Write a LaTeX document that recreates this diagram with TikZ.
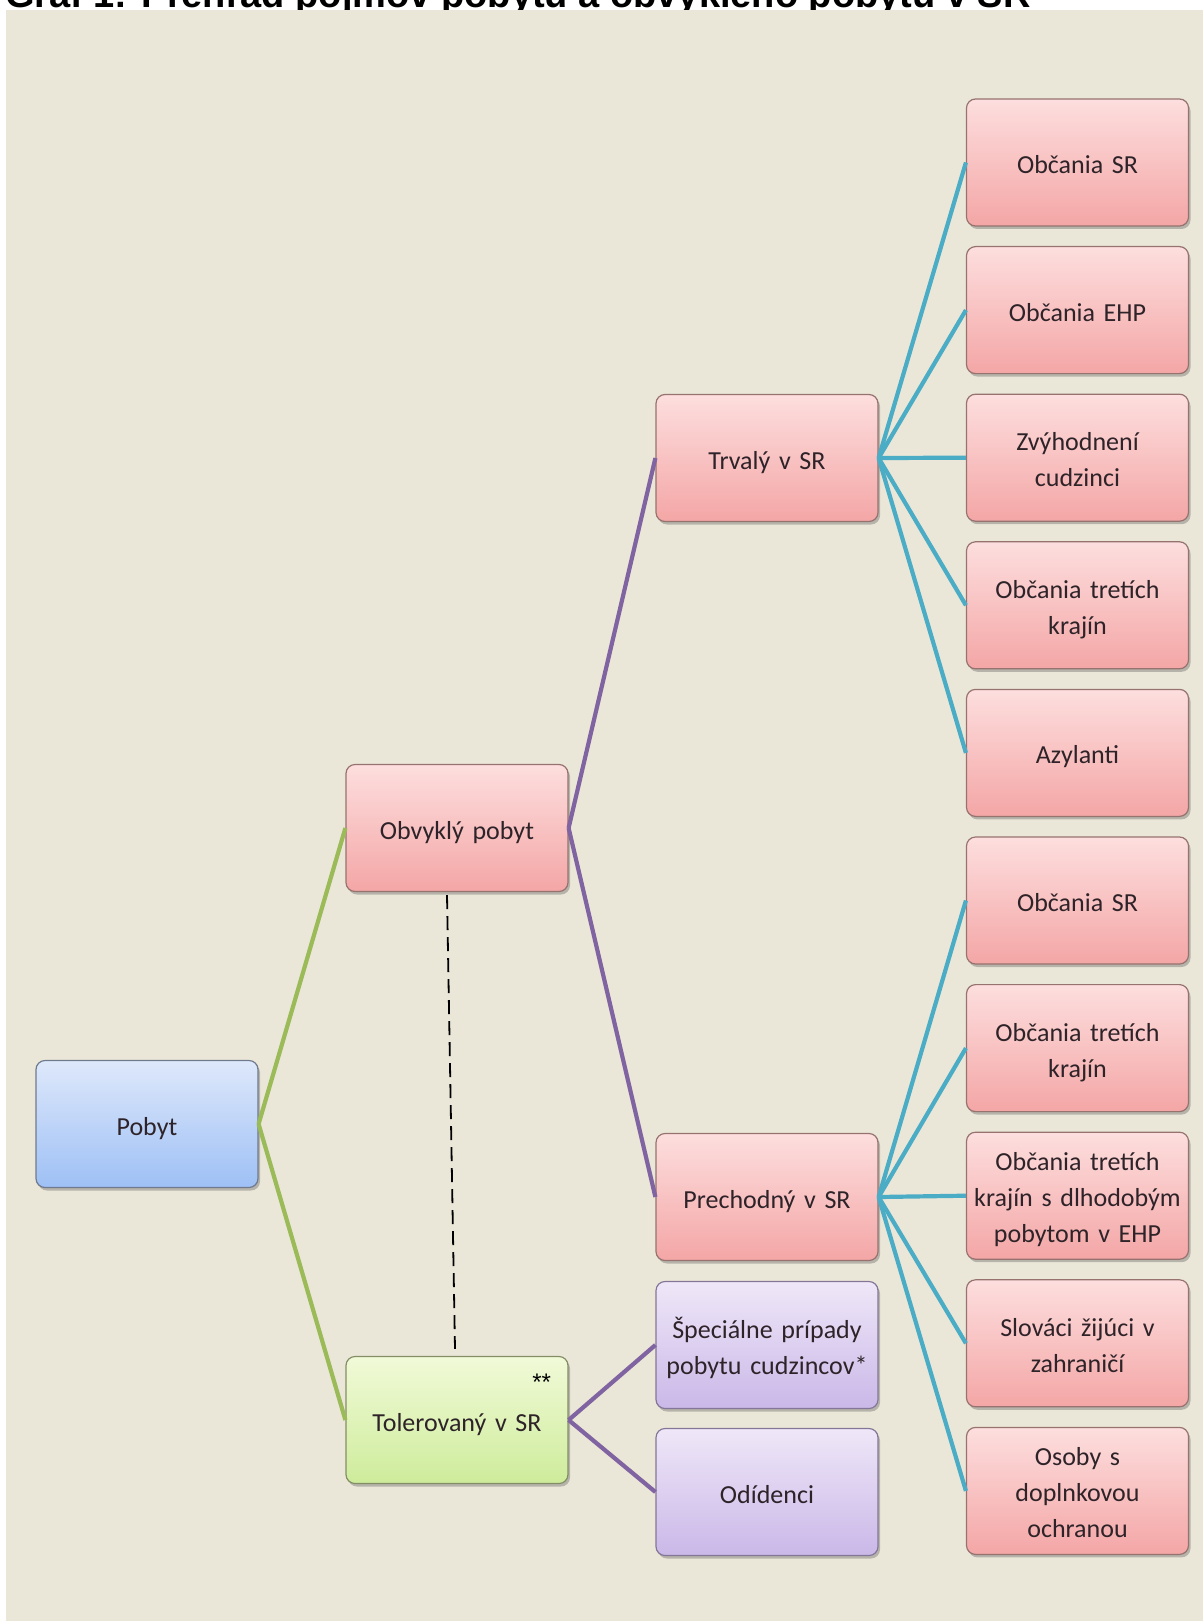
\documentclass[tikz,border=0pt]{standalone}
\usepackage{fontspec}
\setmainfont{Carlito}[WordSpace=0.6]
\newfontfamily\titlefont{Liberation Sans}
\usetikzlibrary{shadows,calc}

\definecolor{bg}{RGB}{235,231,216}
\definecolor{lgreen}{RGB}{155,187,89}
\definecolor{lpurple}{RGB}{128,100,162}
\definecolor{lteal}{RGB}{75,172,198}
\definecolor{pinktop}{RGB}{253,222,222}
\definecolor{pinkbot}{RGB}{244,166,166}
\definecolor{pinkline}{RGB}{150,115,110}
\definecolor{bluetop}{RGB}{222,232,251}
\definecolor{bluebot}{RGB}{158,192,245}
\definecolor{blueline}{RGB}{112,122,142}
\definecolor{greentop}{RGB}{241,250,216}
\definecolor{greenbot}{RGB}{206,236,155}
\definecolor{greenline}{RGB}{132,142,102}
\definecolor{purptop}{RGB}{239,231,248}
\definecolor{purpbot}{RGB}{202,184,232}
\definecolor{purpline}{RGB}{132,118,152}
\definecolor{txt}{RGB}{45,35,40}

\tikzset{
  box/.style={rounded corners=9pt, minimum width=222pt, minimum height=127pt,
    inner sep=0pt, text width=216pt, align=center,
    font=\fontsize{26}{36}\selectfont, text=txt, line width=1.2pt,
    execute at begin node={\rule{0pt}{31pt}},
    execute at end node={\rule[-9pt]{0pt}{9pt}},
    drop shadow={shadow xshift=2pt, shadow yshift=-3pt, opacity=0.4, fill=black!60}},
  pinkbox/.style={box, draw=pinkline, top color=pinktop, bottom color=pinkbot},
  bluebox/.style={box, draw=blueline, top color=bluetop, bottom color=bluebot},
  greenbox/.style={box, draw=greenline, top color=greentop, bottom color=greenbot},
  purpbox/.style={box, draw=purpline, top color=purptop, bottom color=purpbot},
  gconn/.style={draw=lgreen, line width=4.2pt},
  pconn/.style={draw=lpurple, line width=4.2pt},
  tconn/.style={draw=lteal, line width=4.2pt},
}

\begin{document}
\begin{tikzpicture}[x=1pt,y=-1pt]
  % canvas
  \useasboundingbox (0,0) rectangle (1203,1621);
  \fill[white] (0,0) rectangle (1203,1621);
  \fill[bg] (6,10) rectangle (1203,1621);

  % title, cut off at the top edge as in the reference
  \begin{scope}
    \clip (0,0) rectangle (1203,10);
    \node[anchor=base west, inner sep=0pt, font=\titlefont\bfseries\fontsize{38}{38}\selectfont]
      (title) at (5,8) {Graf 1: Prehľad pojmov pobytu a obvyklého pobytu v SR};
  \end{scope}

  % nodes
  \node[bluebox]  (pob) at (147,1124) {Pobyt};
  \node[pinkbox]  (obv) at (457,828) {Obvyklý pobyt};
  \node[greenbox] (tol) at (457,1420) {Tolerovaný v SR};
  \node[pinkbox]  (trv) at (767,458) {Trvalý v SR};
  \node[pinkbox]  (pre) at (767,1197) {Prechodný v SR};
  \node[purpbox]  (spe) at (767,1345) {Špeciálne prípady\\pobytu cudzincov*};
  \node[purpbox]  (odi) at (767,1492) {Odídenci};

  \node[pinkbox] (r1)  at (1077.5,162.5)  {Občania SR};
  \node[pinkbox] (r2)  at (1077.5,310.1)  {Občania EHP};
  \node[pinkbox] (r3)  at (1077.5,457.7)  {Zvýhodnení\\cudzinci};
  \node[pinkbox] (r4)  at (1077.5,605.3)  {Občania tretích\\krajín};
  \node[pinkbox] (r5)  at (1077.5,752.9)  {Azylanti};
  \node[pinkbox] (r6)  at (1077.5,900.5)  {Občania SR};
  \node[pinkbox] (r7)  at (1077.5,1048.1) {Občania tretích\\krajín};
  \node[pinkbox] (r8)  at (1077.5,1195.7) {Občania tretích\\krajín s dlhodobým\\pobytom v EHP};
  \node[pinkbox] (r9)  at (1077.5,1343.3) {Slováci žijúci v\\zahraničí};
  \node[pinkbox] (r10) at (1077.5,1490.9) {Osoby s\\doplnkovou\\ochranou};

  \node[font=\titlefont\fontsize{24}{24}\selectfont, text=black, inner sep=0pt]
    (stars) at ($(tol.north east)+(-27,26)$) {**};

  % connectors
  \draw[gconn] (pob.east) -- (obv.west);
  \draw[gconn] (pob.east) -- (tol.west);
  \draw[pconn] (obv.east) -- (trv.west);
  \draw[pconn] (obv.east) -- (pre.west);
  \draw[pconn] (tol.east) -- (spe.west);
  \draw[pconn] (tol.east) -- (odi.west);
  \foreach \r in {r1,r2,r3,r4,r5} \draw[tconn] (trv.east) -- (\r.west);
  \foreach \r in {r6,r7,r8,r9,r10} \draw[tconn] (pre.east) -- (\r.west);

  % dashed link
  \coordinate (dtop) at ($(obv.south)+(-10,3)$);
  \coordinate (dbot) at ($(tol.north)+(-2,-7)$);
  \draw[black, line width=1.8pt, dash pattern=on 14pt off 7pt] (dtop) -- (dbot);
\end{tikzpicture}
\end{document}
